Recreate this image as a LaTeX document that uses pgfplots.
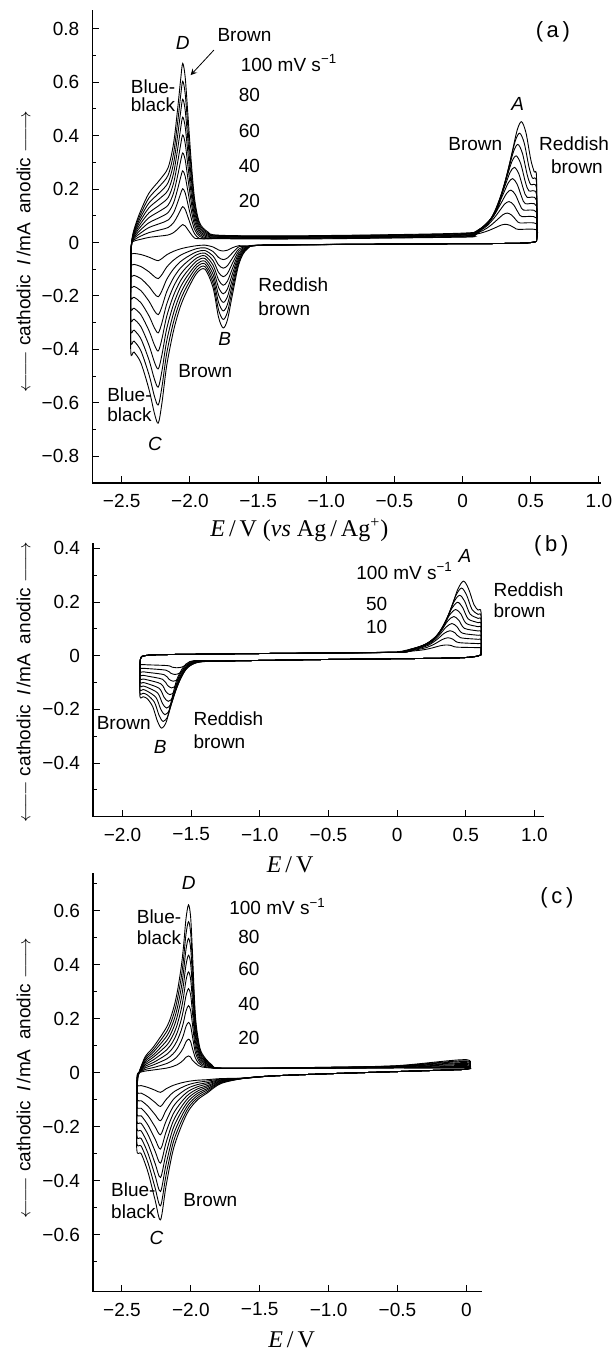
\documentclass[border=0pt]{standalone}
\usepackage{fontspec}
\setmainfont{Liberation Sans}
\newfontfamily\serif{Liberation Serif}
\usepackage{pgfplots}
\pgfplotsset{compat=1.18}

\newcommand{\lab}{\fontsize{9.5}{10}\selectfont}
\newcommand{\xlab}{\serif\fontsize{12}{14}\selectfont}
\newcommand{\ylab}{$\leftarrow\joinrel\relbar\joinrel\relbar$\ cathodic\enspace\textit{I}\,/mA\enspace anodic\ $\relbar\joinrel\relbar\joinrel\rightarrow$}
\newcommand{\mvs}{100 mV s\textsuperscript{−1}}

\pgfplotsset{
  cv/.style={
    scale only axis, clip=false,
    axis lines*=left,
    axis line style={line width=0.6pt},
    tick align=inside,
    major tick length=3.5pt, minor tick length=2pt,
    tick style={black, line width=0.5pt},
    ticklabel style={font=\lab},
    xticklabel style={yshift=-2pt},
    yticklabel style={xshift=-3pt},
    ylabel style={font=\lab, anchor=center},
    xlabel style={font=\xlab, anchor=center},
    cycle list={{black}},
    every axis plot post/.append style={black, mark=none, line width=0.45pt, smooth, tension=0.5},
  },
}

\begin{document}
\begin{tikzpicture}
\useasboundingbox (0,0) rectangle (308pt,675.5pt);

% ---------------- (a) ----------------
\begin{axis}[cv,
  at={(46.15pt,434pt)}, anchor=south west,
  width=254.35pt, height=236.5pt,
  xmin=-2.716, xmax=1.015, ymin=-0.9, ymax=0.87,
  xtick={-2.5,-2,-1.5,-1,-0.5,0,0.5,1},
  xticklabels={−2.5,−2.0,−1.5,−1.0,−0.5,0,0.5,1.0},
  ytick={-0.8,-0.6,-0.4,-0.2,0,0.2,0.4,0.6,0.8},
  yticklabels={−0.8,−0.6,−0.4,−0.2,0,0.2,0.4,0.6,0.8},
  minor ytick={-0.7,-0.5,-0.3,-0.1,0.1,0.3,0.5,0.7},
  xlabel={\textit{E}\,/\,V (\textit{vs} Ag\,/\,Ag\textsuperscript{+})},
  xlabel style={at={(axis description cs:0.407,-0.099)}},
  ylabel={\ylab},
  ylabel style={at={(axis description cs:-0.135,0.489)}},
]
\addplot coordinates {(0.542,0.005)(0.4,-0.003)(-0.5,-0.006)(-1.45,-0.01)(-1.58,-0.013)(-1.64,-0.012)(-1.69,-0.02)(-1.725,-0.029)(-1.756,-0.032)(-1.79,-0.028)(-1.83,-0.017)(-1.89,-0.01)(-1.95,-0.012)(-2.02,-0.018)(-2.07,-0.024)(-2.12,-0.033)(-2.17,-0.046)(-2.205,-0.06)(-2.232,-0.068)(-2.26,-0.064)(-2.3,-0.055)(-2.36,-0.045)(-2.41,-0.041)(-2.434,-0.041)
(-2.432,-0.01)(-2.425,0.001)(-2.4,0.007)(-2.36,0.012)(-2.3,0.019)(-2.22,0.024)(-2.16,0.028)(-2.12,0.037)(-2.09,0.05)(-2.068,0.061)(-2.053,0.067)(-2.035,0.062)(-2.015,0.048)(-1.99,0.03)(-1.965,0.016)(-1.93,0.014)(-1.87,0.014)(-1.78,0.014)(-1.2,0.013)(0,0.02)
(0.033,0.024)(0.133,0.035)(0.193,0.045)(0.243,0.056)(0.283,0.065)(0.315,0.068)(0.348,0.064)(0.383,0.054)(0.408,0.049)(0.542,0.047)(0.542,0.005)};
\addplot coordinates {(0.542,0.005)(0.4,-0.003)(-0.5,-0.006)(-1.45,-0.01)(-1.58,-0.015)(-1.64,-0.016)(-1.69,-0.04)(-1.725,-0.058)(-1.756,-0.064)(-1.79,-0.056)(-1.83,-0.034)(-1.89,-0.02)(-1.95,-0.023)(-2.02,-0.036)(-2.07,-0.048)(-2.12,-0.066)(-2.17,-0.092)(-2.205,-0.12)(-2.232,-0.135)(-2.26,-0.128)(-2.3,-0.11)(-2.36,-0.09)(-2.41,-0.082)(-2.434,-0.081)
(-2.432,-0.02)(-2.425,0.002)(-2.4,0.013)(-2.36,0.024)(-2.3,0.037)(-2.22,0.047)(-2.16,0.056)(-2.12,0.074)(-2.09,0.1)(-2.068,0.122)(-2.053,0.134)(-2.035,0.124)(-2.015,0.096)(-1.99,0.06)(-1.965,0.032)(-1.93,0.015)(-1.87,0.014)(-1.78,0.015)(-1.2,0.015)(0,0.021)
(0.046,0.027)(0.146,0.044)(0.206,0.064)(0.256,0.086)(0.296,0.104)(0.328,0.11)(0.361,0.102)(0.396,0.082)(0.421,0.073)(0.542,0.069)(0.542,0.005)};
\addplot coordinates {(0.542,0.005)(0.4,-0.003)(-0.5,-0.006)(-1.45,-0.01)(-1.58,-0.016)(-1.64,-0.024)(-1.69,-0.06)(-1.725,-0.087)(-1.756,-0.096)(-1.79,-0.084)(-1.83,-0.051)(-1.89,-0.03)(-1.95,-0.035)(-2.02,-0.054)(-2.07,-0.072)(-2.12,-0.099)(-2.17,-0.138)(-2.205,-0.18)(-2.232,-0.203)(-2.26,-0.192)(-2.3,-0.165)(-2.36,-0.135)(-2.41,-0.123)(-2.434,-0.122)
(-2.432,-0.03)(-2.425,0.003)(-2.4,0.02)(-2.36,0.036)(-2.3,0.056)(-2.22,0.071)(-2.16,0.084)(-2.12,0.111)(-2.09,0.15)(-2.068,0.183)(-2.053,0.201)(-2.035,0.186)(-2.015,0.144)(-1.99,0.09)(-1.965,0.048)(-1.93,0.023)(-1.87,0.014)(-1.78,0.017)(-1.2,0.016)(0,0.023)
(0.059,0.031)(0.159,0.054)(0.219,0.084)(0.269,0.117)(0.309,0.144)(0.341,0.153)(0.374,0.141)(0.409,0.111)(0.434,0.097)(0.542,0.091)(0.542,0.005)};
\addplot coordinates {(0.542,0.005)(0.4,-0.003)(-0.5,-0.006)(-1.45,-0.01)(-1.58,-0.017)(-1.64,-0.032)(-1.69,-0.08)(-1.725,-0.116)(-1.756,-0.128)(-1.79,-0.112)(-1.83,-0.068)(-1.89,-0.04)(-1.95,-0.046)(-2.02,-0.072)(-2.07,-0.096)(-2.12,-0.132)(-2.17,-0.184)(-2.205,-0.24)(-2.232,-0.27)(-2.26,-0.256)(-2.3,-0.22)(-2.36,-0.18)(-2.41,-0.164)(-2.434,-0.162)
(-2.432,-0.04)(-2.425,0.004)(-2.4,0.026)(-2.36,0.048)(-2.3,0.074)(-2.22,0.094)(-2.16,0.112)(-2.12,0.148)(-2.09,0.2)(-2.068,0.244)(-2.053,0.268)(-2.035,0.248)(-2.015,0.192)(-1.99,0.12)(-1.965,0.064)(-1.93,0.03)(-1.87,0.016)(-1.78,0.018)(-1.2,0.017)(0,0.025)
(0.072,0.034)(0.172,0.063)(0.232,0.103)(0.282,0.147)(0.322,0.183)(0.354,0.196)(0.387,0.179)(0.422,0.139)(0.447,0.121)(0.542,0.113)(0.542,0.005)};
\addplot coordinates {(0.542,0.005)(0.4,-0.003)(-0.5,-0.006)(-1.45,-0.01)(-1.58,-0.019)(-1.64,-0.04)(-1.69,-0.1)(-1.725,-0.145)(-1.756,-0.16)(-1.79,-0.14)(-1.83,-0.085)(-1.89,-0.05)(-1.95,-0.058)(-2.02,-0.09)(-2.07,-0.12)(-2.12,-0.165)(-2.17,-0.23)(-2.205,-0.3)(-2.232,-0.338)(-2.26,-0.32)(-2.3,-0.275)(-2.36,-0.225)(-2.41,-0.205)(-2.434,-0.203)
(-2.432,-0.05)(-2.425,0.005)(-2.4,0.033)(-2.36,0.06)(-2.3,0.093)(-2.22,0.118)(-2.16,0.14)(-2.12,0.185)(-2.09,0.25)(-2.068,0.305)(-2.053,0.335)(-2.035,0.31)(-2.015,0.24)(-1.99,0.15)(-1.965,0.08)(-1.93,0.038)(-1.87,0.02)(-1.78,0.02)(-1.2,0.019)(0,0.027)
(0.085,0.038)(0.185,0.073)(0.245,0.123)(0.295,0.178)(0.335,0.223)(0.367,0.239)(0.4,0.218)(0.435,0.168)(0.46,0.145)(0.542,0.136)(0.542,0.005)};
\addplot coordinates {(0.542,0.005)(0.4,-0.003)(-0.5,-0.006)(-1.45,-0.01)(-1.58,-0.02)(-1.64,-0.048)(-1.69,-0.12)(-1.725,-0.174)(-1.756,-0.192)(-1.79,-0.168)(-1.83,-0.102)(-1.89,-0.06)(-1.95,-0.069)(-2.02,-0.108)(-2.07,-0.144)(-2.12,-0.198)(-2.17,-0.276)(-2.205,-0.36)(-2.232,-0.406)(-2.26,-0.384)(-2.3,-0.33)(-2.36,-0.27)(-2.41,-0.246)(-2.434,-0.243)
(-2.432,-0.06)(-2.425,0.006)(-2.4,0.039)(-2.36,0.072)(-2.3,0.111)(-2.22,0.141)(-2.16,0.168)(-2.12,0.222)(-2.09,0.3)(-2.068,0.366)(-2.053,0.402)(-2.035,0.372)(-2.015,0.288)(-1.99,0.18)(-1.965,0.096)(-1.93,0.045)(-1.87,0.024)(-1.78,0.021)(-1.2,0.02)(0,0.028)
(0.098,0.041)(0.198,0.082)(0.258,0.142)(0.308,0.208)(0.348,0.262)(0.38,0.281)(0.413,0.256)(0.448,0.196)(0.473,0.169)(0.542,0.158)(0.542,0.005)};
\addplot coordinates {(0.542,0.005)(0.4,-0.003)(-0.5,-0.006)(-1.45,-0.01)(-1.58,-0.021)(-1.64,-0.056)(-1.69,-0.14)(-1.725,-0.203)(-1.756,-0.224)(-1.79,-0.196)(-1.83,-0.119)(-1.89,-0.07)(-1.95,-0.081)(-2.02,-0.126)(-2.07,-0.168)(-2.12,-0.231)(-2.17,-0.322)(-2.205,-0.42)(-2.232,-0.473)(-2.26,-0.448)(-2.3,-0.385)(-2.36,-0.315)(-2.41,-0.287)(-2.434,-0.284)
(-2.432,-0.07)(-2.425,0.007)(-2.4,0.046)(-2.36,0.084)(-2.3,0.13)(-2.22,0.165)(-2.16,0.196)(-2.12,0.259)(-2.09,0.35)(-2.068,0.427)(-2.053,0.469)(-2.035,0.434)(-2.015,0.336)(-1.99,0.21)(-1.965,0.112)(-1.93,0.053)(-1.87,0.028)(-1.78,0.023)(-1.2,0.021)(0,0.03)
(0.111,0.045)(0.211,0.092)(0.271,0.162)(0.321,0.239)(0.361,0.302)(0.393,0.324)(0.426,0.295)(0.461,0.225)(0.486,0.193)(0.542,0.18)(0.542,0.005)};
\addplot coordinates {(0.542,0.005)(0.4,-0.003)(-0.5,-0.006)(-1.45,-0.01)(-1.58,-0.022)(-1.64,-0.064)(-1.69,-0.16)(-1.725,-0.232)(-1.756,-0.256)(-1.79,-0.224)(-1.83,-0.136)(-1.89,-0.08)(-1.95,-0.092)(-2.02,-0.144)(-2.07,-0.192)(-2.12,-0.264)(-2.17,-0.368)(-2.205,-0.48)(-2.232,-0.541)(-2.26,-0.512)(-2.3,-0.44)(-2.36,-0.36)(-2.41,-0.328)(-2.434,-0.324)
(-2.432,-0.08)(-2.425,0.008)(-2.4,0.052)(-2.36,0.096)(-2.3,0.148)(-2.22,0.188)(-2.16,0.224)(-2.12,0.296)(-2.09,0.4)(-2.068,0.488)(-2.053,0.536)(-2.035,0.496)(-2.015,0.384)(-1.99,0.24)(-1.965,0.128)(-1.93,0.06)(-1.87,0.032)(-1.78,0.024)(-1.2,0.022)(0,0.032)
(0.124,0.048)(0.224,0.101)(0.284,0.181)(0.334,0.269)(0.374,0.341)(0.406,0.367)(0.439,0.333)(0.474,0.253)(0.499,0.217)(0.542,0.202)(0.542,0.005)};
\addplot coordinates {(0.542,0.005)(0.4,-0.003)(-0.5,-0.006)(-1.45,-0.01)(-1.58,-0.024)(-1.64,-0.072)(-1.69,-0.18)(-1.725,-0.261)(-1.756,-0.288)(-1.79,-0.252)(-1.83,-0.153)(-1.89,-0.09)(-1.95,-0.104)(-2.02,-0.162)(-2.07,-0.216)(-2.12,-0.297)(-2.17,-0.414)(-2.205,-0.54)(-2.232,-0.608)(-2.26,-0.576)(-2.3,-0.495)(-2.36,-0.405)(-2.41,-0.369)(-2.434,-0.365)
(-2.432,-0.09)(-2.425,0.009)(-2.4,0.059)(-2.36,0.108)(-2.3,0.167)(-2.22,0.212)(-2.16,0.252)(-2.12,0.333)(-2.09,0.45)(-2.068,0.549)(-2.053,0.603)(-2.035,0.558)(-2.015,0.432)(-1.99,0.27)(-1.965,0.144)(-1.93,0.068)(-1.87,0.036)(-1.78,0.026)(-1.2,0.024)(0,0.033)
(0.137,0.052)(0.237,0.111)(0.297,0.201)(0.347,0.3)(0.387,0.381)(0.419,0.409)(0.452,0.372)(0.487,0.282)(0.512,0.241)(0.542,0.224)(0.542,0.005)};
\addplot coordinates {(0.542,0.005)(0.4,-0.003)(-0.5,-0.006)(-1.45,-0.01)(-1.58,-0.025)(-1.64,-0.08)(-1.69,-0.2)(-1.725,-0.29)(-1.756,-0.32)(-1.79,-0.28)(-1.83,-0.17)(-1.89,-0.1)(-1.95,-0.115)(-2.02,-0.18)(-2.07,-0.24)(-2.12,-0.33)(-2.17,-0.46)(-2.205,-0.6)(-2.232,-0.676)(-2.26,-0.64)(-2.3,-0.55)(-2.36,-0.45)(-2.41,-0.41)(-2.434,-0.405)
(-2.432,-0.1)(-2.425,0.01)(-2.4,0.065)(-2.36,0.12)(-2.3,0.185)(-2.22,0.235)(-2.16,0.28)(-2.12,0.37)(-2.09,0.5)(-2.068,0.61)(-2.053,0.67)(-2.035,0.62)(-2.015,0.48)(-1.99,0.3)(-1.965,0.16)(-1.93,0.075)(-1.87,0.04)(-1.78,0.027)(-1.2,0.025)(0,0.035)
(0.15,0.055)(0.25,0.12)(0.31,0.22)(0.36,0.33)(0.4,0.42)(0.432,0.452)(0.465,0.41)(0.5,0.31)(0.525,0.265)(0.542,0.246)(0.542,0.005)};

\node[font=\lab] at (axis cs:-2.053,0.745) {\textit{D}};
\node[font=\lab] at (axis cs:-1.60,0.776) {Brown};
\draw[->, >=stealth, line width=0.4pt] (axis cs:-1.824,0.72) -- (axis cs:-1.995,0.626);
\node[font=\lab, anchor=west] at (axis cs:-1.679,0.672) {\mvs};
\node[font=\lab, anchor=west] at (axis cs:-1.693,0.551) {80};
\node[font=\lab, anchor=west] at (axis cs:-1.693,0.418) {60};
\node[font=\lab, anchor=west] at (axis cs:-1.693,0.287) {40};
\node[font=\lab, anchor=west] at (axis cs:-1.693,0.155) {20};
\node[font=\lab, anchor=west] at (axis cs:-2.485,0.582) {Blue-};
\node[font=\lab, anchor=west] at (axis cs:-2.485,0.514) {black};
\node[font=\lab] at (axis cs:0.404,0.52) {\textit{A}};
\node[font=\lab] at (axis cs:0.093,0.368) {Brown};
\node[font=\lab, anchor=west] at (axis cs:0.51,0.368) {Reddish};
\node[font=\lab, anchor=west] at (axis cs:0.597,0.283) {brown};
\node[font=\fontsize{11}{12}\selectfont] at (axis cs:0.662,0.788) {(\,a\,)};
\node[font=\lab, anchor=west] at (axis cs:-1.549,-0.159) {Reddish};
\node[font=\lab, anchor=west] at (axis cs:-1.549,-0.246) {brown};
\node[font=\lab] at (axis cs:-1.745,-0.362) {\textit{B}};
\node[font=\lab] at (axis cs:-1.888,-0.483) {Brown};
\node[font=\lab, anchor=west] at (axis cs:-2.658,-0.570) {Blue-};
\node[font=\lab, anchor=west] at (axis cs:-2.658,-0.645) {black};
\node[font=\lab] at (axis cs:-2.255,-0.753) {\textit{C}};
\end{axis}

% ---------------- (b) ----------------
\begin{axis}[cv,
  at={(46.5pt,267.15pt)}, anchor=south west,
  width=225.5pt, height=136.85pt,
  xmin=-2.215, xmax=1.07, ymin=-0.6, ymax=0.42,
  xtick={-2,-1.5,-1,-0.5,0,0.5,1},
  xticklabels={−2.0,−1.5,−1.0,−0.5,0,0.5,1.0},
  ytick={-0.4,-0.2,0,0.2,0.4},
  yticklabels={−0.4,−0.2,0,0.2,0.4},
  minor ytick={-0.5,-0.3,-0.1,0.1,0.3},
  xlabel={\textit{E}\,/\,V},
  xlabel style={at={(axis description cs:0.437,-0.176)}},
  ylabel={\ylab},
  ylabel style={at={(axis description cs:-0.154,0.492)}},
]
\addplot coordinates {(0.612,0.004)(0.45,-0.008)(-0.5,-0.014)(-1.3,-0.02)(-1.402,-0.022)(-1.487,-0.026)(-1.535,-0.035)(-1.572,-0.043)(-1.607,-0.045)(-1.637,-0.043)(-1.672,-0.037)(-1.82,-0.034)(-1.85,-0.033)(-1.873,-0.033)
(-1.872,-0.024)(-1.868,-0.01)(-1.84,0)(-1.7,0.004)(-1,0.008)(0,0.013)(0.024,0.016)(0.124,0.018)(0.204,0.023)(0.264,0.03)(0.314,0.037)(0.357,0.04)(0.394,0.038)(0.434,0.032)(0.59,0.03)(0.612,0.029)(0.612,0.004)};
\addplot coordinates {(0.612,0.004)(0.45,-0.008)(-0.5,-0.014)(-1.3,-0.02)(-1.414,-0.022)(-1.499,-0.031)(-1.547,-0.049)(-1.584,-0.065)(-1.619,-0.07)(-1.649,-0.065)(-1.684,-0.054)(-1.82,-0.048)(-1.85,-0.047)(-1.873,-0.046)
(-1.872,-0.028)(-1.868,-0.01)(-1.84,0)(-1.7,0.004)(-1,0.008)(0,0.013)(0.038,0.017)(0.138,0.022)(0.218,0.031)(0.278,0.045)(0.328,0.06)(0.371,0.067)(0.408,0.061)(0.448,0.049)(0.59,0.045)(0.612,0.043)(0.612,0.004)};
\addplot coordinates {(0.612,0.004)(0.45,-0.008)(-0.5,-0.014)(-1.3,-0.02)(-1.426,-0.022)(-1.511,-0.037)(-1.559,-0.064)(-1.596,-0.088)(-1.631,-0.095)(-1.661,-0.088)(-1.696,-0.071)(-1.82,-0.062)(-1.85,-0.06)(-1.873,-0.06)
(-1.872,-0.032)(-1.868,-0.01)(-1.84,0)(-1.7,0.004)(-1,0.008)(0,0.013)(0.052,0.019)(0.152,0.026)(0.232,0.04)(0.292,0.061)(0.342,0.083)(0.385,0.093)(0.422,0.085)(0.462,0.067)(0.59,0.061)(0.612,0.058)(0.612,0.004)};
\addplot coordinates {(0.612,0.004)(0.45,-0.008)(-0.5,-0.014)(-1.3,-0.02)(-1.438,-0.022)(-1.523,-0.043)(-1.571,-0.078)(-1.608,-0.11)(-1.643,-0.12)(-1.673,-0.11)(-1.708,-0.088)(-1.82,-0.076)(-1.85,-0.073)(-1.873,-0.073)
(-1.872,-0.036)(-1.868,-0.01)(-1.84,0)(-1.7,0.004)(-1,0.008)(0,0.013)(0.066,0.02)(0.166,0.03)(0.246,0.048)(0.306,0.076)(0.356,0.106)(0.399,0.12)(0.436,0.108)(0.476,0.084)(0.59,0.076)(0.612,0.072)(0.612,0.004)};
\addplot coordinates {(0.612,0.004)(0.45,-0.008)(-0.5,-0.014)(-1.3,-0.02)(-1.45,-0.022)(-1.535,-0.049)(-1.583,-0.093)(-1.62,-0.133)(-1.655,-0.145)(-1.685,-0.133)(-1.72,-0.105)(-1.82,-0.09)(-1.85,-0.087)(-1.873,-0.086)
(-1.872,-0.04)(-1.868,-0.01)(-1.84,0)(-1.7,0.004)(-1,0.008)(0,0.013)(0.08,0.022)(0.18,0.035)(0.26,0.057)(0.32,0.092)(0.37,0.13)(0.413,0.146)(0.45,0.132)(0.49,0.102)(0.59,0.092)(0.612,0.087)(0.612,0.004)};
\addplot coordinates {(0.612,0.004)(0.45,-0.008)(-0.5,-0.014)(-1.3,-0.02)(-1.462,-0.022)(-1.547,-0.054)(-1.595,-0.107)(-1.632,-0.155)(-1.667,-0.17)(-1.697,-0.155)(-1.732,-0.122)(-1.82,-0.104)(-1.85,-0.1)(-1.873,-0.099)
(-1.872,-0.044)(-1.868,-0.01)(-1.84,0)(-1.7,0.004)(-1,0.008)(0,0.013)(0.094,0.024)(0.194,0.039)(0.274,0.066)(0.334,0.108)(0.384,0.153)(0.427,0.172)(0.464,0.156)(0.504,0.12)(0.59,0.108)(0.612,0.102)(0.612,0.004)};
\addplot coordinates {(0.612,0.004)(0.45,-0.008)(-0.5,-0.014)(-1.3,-0.02)(-1.474,-0.022)(-1.559,-0.06)(-1.607,-0.122)(-1.644,-0.178)(-1.679,-0.195)(-1.709,-0.178)(-1.744,-0.139)(-1.82,-0.118)(-1.85,-0.113)(-1.873,-0.112)
(-1.872,-0.048)(-1.868,-0.01)(-1.84,0)(-1.7,0.004)(-1,0.008)(0,0.013)(0.108,0.025)(0.208,0.043)(0.288,0.074)(0.348,0.123)(0.398,0.176)(0.441,0.199)(0.478,0.179)(0.518,0.137)(0.59,0.123)(0.612,0.116)(0.612,0.004)};
\addplot coordinates {(0.612,0.004)(0.45,-0.008)(-0.5,-0.014)(-1.3,-0.02)(-1.486,-0.022)(-1.571,-0.066)(-1.619,-0.136)(-1.656,-0.2)(-1.691,-0.22)(-1.721,-0.2)(-1.756,-0.156)(-1.82,-0.132)(-1.85,-0.126)(-1.873,-0.126)
(-1.872,-0.052)(-1.868,-0.01)(-1.84,0)(-1.7,0.004)(-1,0.008)(0,0.013)(0.122,0.027)(0.222,0.047)(0.302,0.083)(0.362,0.139)(0.412,0.199)(0.455,0.225)(0.492,0.203)(0.532,0.155)(0.59,0.139)(0.612,0.131)(0.612,0.004)};
\addplot coordinates {(0.612,0.004)(0.45,-0.008)(-0.5,-0.014)(-1.3,-0.02)(-1.498,-0.022)(-1.583,-0.071)(-1.631,-0.151)(-1.668,-0.223)(-1.703,-0.245)(-1.733,-0.223)(-1.768,-0.173)(-1.82,-0.146)(-1.85,-0.14)(-1.873,-0.139)
(-1.872,-0.056)(-1.868,-0.01)(-1.84,0)(-1.7,0.004)(-1,0.008)(0,0.013)(0.136,0.028)(0.236,0.051)(0.316,0.091)(0.376,0.154)(0.426,0.222)(0.469,0.252)(0.506,0.226)(0.546,0.172)(0.59,0.154)(0.612,0.145)(0.612,0.004)};
\addplot coordinates {(0.612,0.004)(0.45,-0.008)(-0.5,-0.014)(-1.3,-0.02)(-1.51,-0.022)(-1.595,-0.077)(-1.643,-0.165)(-1.68,-0.245)(-1.715,-0.27)(-1.745,-0.245)(-1.78,-0.19)(-1.82,-0.16)(-1.85,-0.153)(-1.873,-0.152)
(-1.872,-0.06)(-1.868,-0.01)(-1.84,0)(-1.7,0.004)(-1,0.008)(0,0.013)(0.15,0.03)(0.25,0.055)(0.33,0.1)(0.39,0.17)(0.44,0.245)(0.483,0.278)(0.52,0.25)(0.56,0.19)(0.59,0.17)(0.612,0.16)(0.612,0.004)};

\node[font=\fontsize{11}{12}\selectfont] at (axis cs:1.123,0.409) {(\,b\,)};
\node[font=\lab] at (axis cs:0.495,0.371) {\textit{A}};
\node[font=\lab, anchor=west] at (axis cs:-0.348,0.315) {\mvs};
\node[font=\lab, anchor=west] at (axis cs:-0.277,0.191) {50};
\node[font=\lab, anchor=west] at (axis cs:-0.277,0.107) {10};
\node[font=\lab, anchor=west] at (axis cs:0.652,0.247) {Reddish};
\node[font=\lab, anchor=west] at (axis cs:0.652,0.166) {brown};
\node[font=\lab] at (axis cs:-1.991,-0.252) {Brown};
\node[font=\lab] at (axis cs:-1.726,-0.339) {\textit{B}};
\node[font=\lab, anchor=west] at (axis cs:-1.534,-0.233) {Reddish};
\node[font=\lab, anchor=west] at (axis cs:-1.534,-0.32) {brown};
\end{axis}

% ---------------- (c) ----------------
\begin{axis}[cv,
  at={(46.5pt,29.65pt)}, anchor=south west,
  width=194.75pt, height=209.2pt,
  xmin=-2.71, xmax=0.117, ymin=-0.811, ymax=0.738,
  xtick={-2.5,-2,-1.5,-1,-0.5,0},
  xticklabels={−2.5,−2.0,−1.5,−1.0,−0.5,0},
  ytick={-0.6,-0.4,-0.2,0,0.2,0.4,0.6},
  yticklabels={−0.6,−0.4,−0.2,0,0.2,0.4,0.6},
  minor ytick={-0.7,-0.5,-0.3,-0.1,0.1,0.3,0.5,0.7},
  xlabel={\textit{E}\,/\,V},
  xlabel style={at={(axis description cs:0.51,-0.115)}},
  ylabel={\ylab},
  ylabel style={at={(axis description cs:-0.178,0.511)}},
]
\addplot coordinates {(0,0.012)(-0.5,0.004)(-1,-0.004)(-1.4,-0.012)(-1.6,-0.02)(-1.78,-0.022)(-1.88,-0.026)(-1.95,-0.028)(-2.015,-0.032)(-2.07,-0.038)(-2.128,-0.047)(-2.18,-0.06)(-2.22,-0.073)(-2.26,-0.065)(-2.31,-0.055)(-2.36,-0.048)(-2.392,-0.047)
(-2.39,-0.01)(-2.385,-0.002)(-2.37,0.001)(-2.33,0.006)(-2.27,0.01)(-2.174,0.017)(-2.13,0.023)(-2.1,0.029)(-2.07,0.039)(-2.053,0.047)(-2.035,0.057)(-2.017,0.062)(-2.002,0.058)(-1.99,0.047)(-1.968,0.036)(-1.945,0.026)(-1.92,0.021)(-1.85,0.017)(-1.75,0.016)(-1,0.016)(-0.5,0.017)(0,0.016)(0,0.012)};
\addplot coordinates {(0,0.012)(-0.5,0.004)(-1,-0.004)(-1.4,-0.012)(-1.6,-0.02)(-1.78,-0.024)(-1.88,-0.031)(-1.95,-0.036)(-2.015,-0.044)(-2.07,-0.056)(-2.128,-0.073)(-2.18,-0.1)(-2.22,-0.125)(-2.26,-0.11)(-2.31,-0.09)(-2.36,-0.076)(-2.392,-0.073)
(-2.39,-0.02)(-2.385,-0.004)(-2.37,0.002)(-2.33,0.012)(-2.27,0.019)(-2.174,0.034)(-2.13,0.046)(-2.1,0.059)(-2.07,0.078)(-2.053,0.093)(-2.035,0.114)(-2.017,0.124)(-2.002,0.116)(-1.99,0.093)(-1.968,0.056)(-1.945,0.036)(-1.92,0.026)(-1.85,0.018)(-1.75,0.016)(-1,0.016)(-0.5,0.018)(0,0.019)(0,0.012)};
\addplot coordinates {(0,0.012)(-0.5,0.004)(-1,-0.004)(-1.4,-0.012)(-1.6,-0.02)(-1.78,-0.026)(-1.88,-0.037)(-1.95,-0.044)(-2.015,-0.056)(-2.07,-0.074)(-2.128,-0.1)(-2.18,-0.14)(-2.22,-0.178)(-2.26,-0.155)(-2.31,-0.125)(-2.36,-0.104)(-2.392,-0.1)
(-2.39,-0.03)(-2.385,-0.006)(-2.37,0.003)(-2.33,0.018)(-2.27,0.029)(-2.174,0.051)(-2.13,0.069)(-2.1,0.088)(-2.07,0.117)(-2.053,0.14)(-2.035,0.171)(-2.017,0.186)(-2.002,0.174)(-1.99,0.14)(-1.968,0.077)(-1.945,0.047)(-1.92,0.032)(-1.85,0.02)(-1.75,0.016)(-1,0.017)(-0.5,0.019)(0,0.023)(0,0.012)};
\addplot coordinates {(0,0.012)(-0.5,0.004)(-1,-0.004)(-1.4,-0.012)(-1.6,-0.02)(-1.78,-0.028)(-1.88,-0.042)(-1.95,-0.052)(-2.015,-0.068)(-2.07,-0.092)(-2.128,-0.126)(-2.18,-0.18)(-2.22,-0.23)(-2.26,-0.2)(-2.31,-0.16)(-2.36,-0.132)(-2.392,-0.126)
(-2.39,-0.04)(-2.385,-0.008)(-2.37,0.004)(-2.33,0.024)(-2.27,0.038)(-2.174,0.068)(-2.13,0.092)(-2.1,0.118)(-2.07,0.156)(-2.053,0.187)(-2.035,0.228)(-2.017,0.248)(-2.002,0.232)(-1.99,0.187)(-1.968,0.097)(-1.945,0.057)(-1.92,0.038)(-1.85,0.021)(-1.75,0.016)(-1,0.017)(-0.5,0.02)(0,0.026)(0,0.012)};
\addplot coordinates {(0,0.012)(-0.5,0.004)(-1,-0.004)(-1.4,-0.012)(-1.6,-0.02)(-1.78,-0.03)(-1.88,-0.048)(-1.95,-0.06)(-2.015,-0.08)(-2.07,-0.11)(-2.128,-0.153)(-2.18,-0.22)(-2.22,-0.283)(-2.26,-0.245)(-2.31,-0.195)(-2.36,-0.16)(-2.392,-0.153)
(-2.39,-0.05)(-2.385,-0.01)(-2.37,0.005)(-2.33,0.03)(-2.27,0.048)(-2.174,0.085)(-2.13,0.115)(-2.1,0.147)(-2.07,0.195)(-2.053,0.234)(-2.035,0.285)(-2.017,0.311)(-2.002,0.29)(-1.99,0.234)(-1.968,0.118)(-1.945,0.068)(-1.92,0.044)(-1.85,0.023)(-1.75,0.016)(-1,0.018)(-0.5,0.021)(0,0.03)(0,0.012)};
\addplot coordinates {(0,0.012)(-0.5,0.004)(-1,-0.004)(-1.4,-0.012)(-1.6,-0.02)(-1.78,-0.032)(-1.88,-0.053)(-1.95,-0.068)(-2.015,-0.092)(-2.07,-0.128)(-2.128,-0.18)(-2.18,-0.26)(-2.22,-0.335)(-2.26,-0.29)(-2.31,-0.23)(-2.36,-0.188)(-2.392,-0.18)
(-2.39,-0.06)(-2.385,-0.012)(-2.37,0.006)(-2.33,0.036)(-2.27,0.058)(-2.174,0.102)(-2.13,0.138)(-2.1,0.176)(-2.07,0.234)(-2.053,0.28)(-2.035,0.342)(-2.017,0.373)(-2.002,0.348)(-1.99,0.28)(-1.968,0.138)(-1.945,0.078)(-1.92,0.049)(-1.85,0.024)(-1.75,0.016)(-1,0.018)(-0.5,0.022)(0,0.034)(0,0.012)};
\addplot coordinates {(0,0.012)(-0.5,0.004)(-1,-0.004)(-1.4,-0.012)(-1.6,-0.02)(-1.78,-0.034)(-1.88,-0.059)(-1.95,-0.076)(-2.015,-0.104)(-2.07,-0.146)(-2.128,-0.206)(-2.18,-0.3)(-2.22,-0.388)(-2.26,-0.335)(-2.31,-0.265)(-2.36,-0.216)(-2.392,-0.206)
(-2.39,-0.07)(-2.385,-0.014)(-2.37,0.007)(-2.33,0.042)(-2.27,0.067)(-2.174,0.119)(-2.13,0.161)(-2.1,0.206)(-2.07,0.273)(-2.053,0.327)(-2.035,0.399)(-2.017,0.435)(-2.002,0.406)(-1.99,0.327)(-1.968,0.159)(-1.945,0.089)(-1.92,0.055)(-1.85,0.026)(-1.75,0.016)(-1,0.019)(-0.5,0.023)(0,0.037)(0,0.012)};
\addplot coordinates {(0,0.012)(-0.5,0.004)(-1,-0.004)(-1.4,-0.012)(-1.6,-0.02)(-1.78,-0.036)(-1.88,-0.064)(-1.95,-0.084)(-2.015,-0.116)(-2.07,-0.164)(-2.128,-0.233)(-2.18,-0.34)(-2.22,-0.44)(-2.26,-0.38)(-2.31,-0.3)(-2.36,-0.244)(-2.392,-0.233)
(-2.39,-0.08)(-2.385,-0.016)(-2.37,0.008)(-2.33,0.048)(-2.27,0.077)(-2.174,0.136)(-2.13,0.184)(-2.1,0.235)(-2.07,0.312)(-2.053,0.374)(-2.035,0.456)(-2.017,0.497)(-2.002,0.464)(-1.99,0.374)(-1.968,0.179)(-1.945,0.099)(-1.92,0.061)(-1.85,0.027)(-1.75,0.016)(-1,0.019)(-0.5,0.024)(0,0.041)(0,0.012)};
\addplot coordinates {(0,0.012)(-0.5,0.004)(-1,-0.004)(-1.4,-0.012)(-1.6,-0.02)(-1.78,-0.038)(-1.88,-0.07)(-1.95,-0.092)(-2.015,-0.128)(-2.07,-0.182)(-2.128,-0.259)(-2.18,-0.38)(-2.22,-0.493)(-2.26,-0.425)(-2.31,-0.335)(-2.36,-0.272)(-2.392,-0.259)
(-2.39,-0.09)(-2.385,-0.018)(-2.37,0.009)(-2.33,0.054)(-2.27,0.086)(-2.174,0.153)(-2.13,0.207)(-2.1,0.265)(-2.07,0.351)(-2.053,0.42)(-2.035,0.513)(-2.017,0.559)(-2.002,0.522)(-1.99,0.42)(-1.968,0.2)(-1.945,0.11)(-1.92,0.066)(-1.85,0.029)(-1.75,0.016)(-1,0.02)(-0.5,0.025)(0,0.044)(0,0.012)};
\addplot coordinates {(0,0.012)(-0.5,0.004)(-1,-0.004)(-1.4,-0.012)(-1.6,-0.02)(-1.78,-0.04)(-1.88,-0.075)(-1.95,-0.1)(-2.015,-0.14)(-2.07,-0.2)(-2.128,-0.286)(-2.18,-0.42)(-2.22,-0.545)(-2.26,-0.47)(-2.31,-0.37)(-2.36,-0.3)(-2.392,-0.286)
(-2.39,-0.1)(-2.385,-0.02)(-2.37,0.01)(-2.33,0.06)(-2.27,0.096)(-2.174,0.17)(-2.13,0.23)(-2.1,0.294)(-2.07,0.39)(-2.053,0.467)(-2.035,0.57)(-2.017,0.621)(-2.002,0.58)(-1.99,0.467)(-1.968,0.22)(-1.945,0.12)(-1.92,0.072)(-1.85,0.03)(-1.75,0.016)(-1,0.02)(-0.5,0.026)(0,0.048)(0,0.012)};

\node[font=\lab] at (axis cs:-2.015,0.701) {\textit{D}};
\node[font=\fontsize{11}{12}\selectfont] at (axis cs:0.657,0.646) {(\,c\,)};
\node[font=\lab, anchor=west] at (axis cs:-1.772,0.615) {\mvs};
\node[font=\lab, anchor=west] at (axis cs:-1.706,0.501) {80};
\node[font=\lab, anchor=west] at (axis cs:-1.706,0.384) {60};
\node[font=\lab, anchor=west] at (axis cs:-1.706,0.254) {40};
\node[font=\lab, anchor=west] at (axis cs:-1.706,0.127) {20};
\node[font=\lab, anchor=west] at (axis cs:-2.443,0.578) {Blue-};
\node[font=\lab, anchor=west] at (axis cs:-2.443,0.498) {black};
\node[font=\lab, anchor=west] at (axis cs:-2.629,-0.434) {Blue-};
\node[font=\lab, anchor=west] at (axis cs:-2.629,-0.515) {black};
\node[font=\lab] at (axis cs:-1.858,-0.471) {Brown};
\node[font=\lab] at (axis cs:-2.249,-0.613) {\textit{C}};
\end{axis}
\end{tikzpicture}
\end{document}
